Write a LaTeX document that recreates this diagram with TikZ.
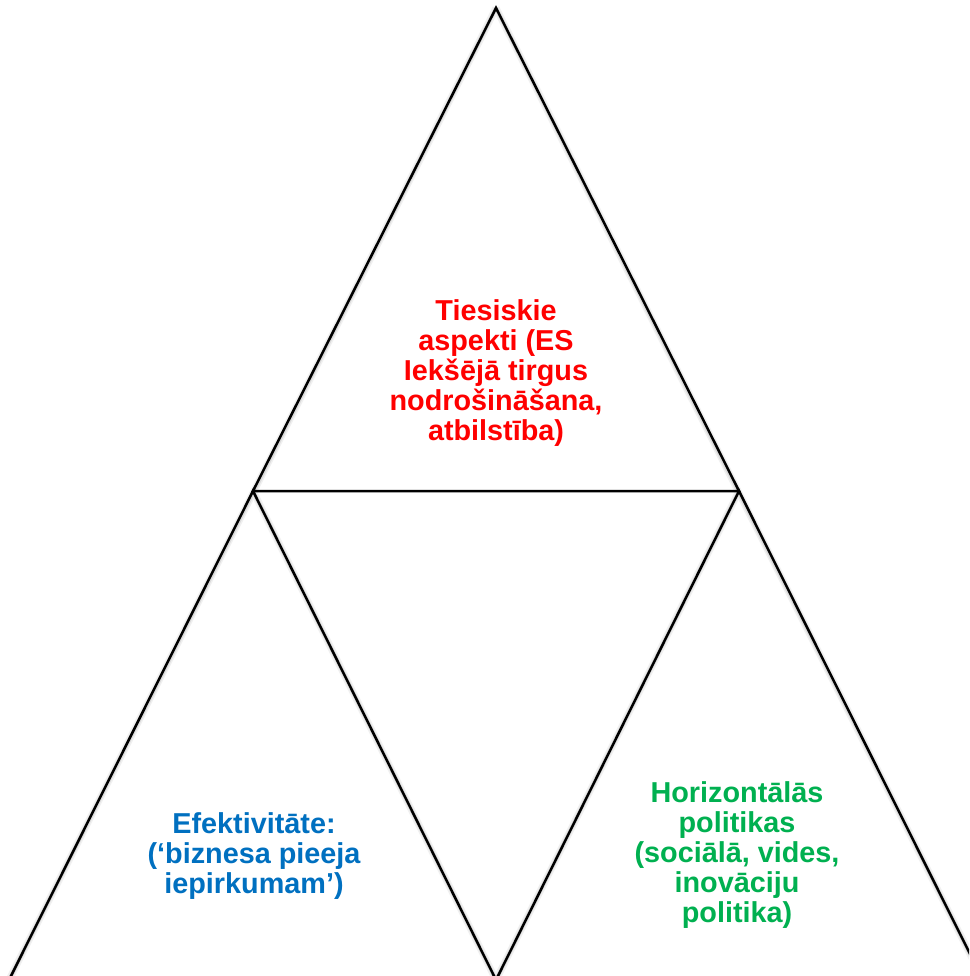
\documentclass[tikz,border=0pt]{standalone}
\usepackage{fontspec}
\setmainfont{Liberation Sans}
\definecolor{tred}{RGB}{255,0,0}
\definecolor{tblue}{RGB}{0,112,192}
\definecolor{tgreen}{RGB}{0,176,80}
\begin{document}
\begin{tikzpicture}[x=1pt,y=-1pt,
  edge/.style={draw=black,line width=2.5pt,line join=miter},
  shade1/.style={draw=black!14,line width=4pt},
  shade2/.style={draw=black!6,line width=7pt},
  label/.style={align=center,font=\fontsize{28.8}{30}\selectfont\bfseries,inner sep=0pt}]
\useasboundingbox (0,0) rectangle (969,976);
\clip (0,0) rectangle (969,976);
\fill[white] (0,0) rectangle (969,976);
\coordinate (A) at (496,8);
\coordinate (B) at (253,491);
\coordinate (C) at (739,491);
\coordinate (D) at (9,980);
\coordinate (E) at (496,980);
\coordinate (F) at (983,980);
% soft shadow
\begin{scope}[shift={(5,1)}]
\draw[shade2] (A) -- (D);
\draw[shade2] (A) -- (F);
\draw[shade2] (B) -- (E) -- (C);
\end{scope}
\begin{scope}[shift={(3,0.5)}]
\draw[shade1] (A) -- (D);
\draw[shade1] (A) -- (F);
\draw[shade1] (B) -- (E) -- (C);
\end{scope}
% triangles
\draw[edge] (A) -- (B) -- (C) -- cycle;
\draw[edge] (B) -- (D) -- (E) -- cycle;
\draw[edge] (C) -- (E) -- (F) -- cycle;
\node[label,text=tred] (top) at (496,373) {Tiesiskie\\aspekti (ES\\Iekšējā tirgus\\nodrošināšana,\\atbilstība)};
\node[label,text=tblue] (left) at (254,856) {Efektivitāte:\\(‘biznesa pieeja\\iepirkumam’)};
\node[label,text=tgreen] (right) at (737,855) {Horizontālās\\politikas\\(sociālā, vides,\\inovāciju\\politika)};
\end{tikzpicture}
\end{document}
